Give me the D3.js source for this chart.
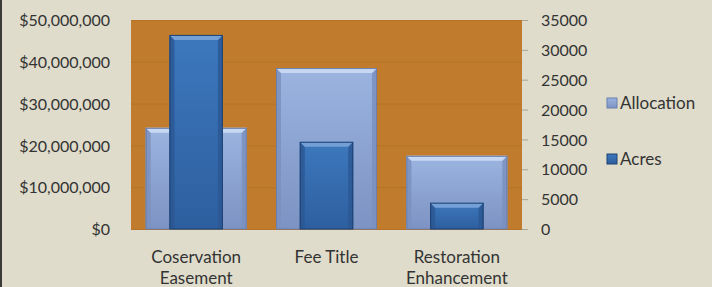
<!DOCTYPE html>
<html>
<head>
  <meta charset="utf-8">
  <title>Allocation and Acres</title>
  <script src="https://d3js.org/d3.v7.min.js"></script>
  <style>
    body { margin: 0; background: #dfdccb; }
    text { font-family: Lato, "Open Sans", sans-serif; fill: #333; }
  </style>
</head>
<body>
<script>
  // data
  var categories = [["Coservation", "Easement"], ["Fee Title", ""], ["Restoration", "Enhancement"]];
  var allocation = [24200000, 38500000, 17500000];
  var acres = [32500, 14600, 4400];
  var leftTicks = [0, 10000000, 20000000, 30000000, 40000000, 50000000];
  var rightTicks = [0, 5000, 10000, 15000, 20000, 25000, 30000, 35000];
  var seriesNames = ["Allocation", "Acres"];

  var width = 712, height = 287;
  var plot = { left: 131, right: 522, top: 20, bottom: 229 };

  var svg = d3.select("body").append("svg").attr("width", width).attr("height", height);
  svg.append("rect").attr("width", width).attr("height", height).attr("fill", "#dfdccb");
  svg.append("rect").attr("x", 0).attr("y", 0).attr("width", 2).attr("height", height).attr("fill", "#3a3a36");

  var defs = svg.append("defs");
  function grad(id, c1, c2) {
    var g = defs.append("linearGradient").attr("id", id).attr("x1", 0).attr("y1", 0).attr("x2", 0).attr("y2", 1);
    g.append("stop").attr("offset", "0%").attr("stop-color", c1);
    g.append("stop").attr("offset", "100%").attr("stop-color", c2);
  }
  grad("gLight", "#9bb4e0", "#7d93c3");
  grad("gDark", "#3d78bd", "#2d5f9f");

  var styles = {
    light: { fill: "url(#gLight)", top: "#c9d8f2", side: "#7a90c0", edge: "#6a7fae" },
    dark: { fill: "url(#gDark)", top: "#75a0d6", side: "#2b5894", edge: "#1f4272" }
  };

  var x = d3.scaleBand().domain(d3.range(categories.length)).range([plot.left, plot.right]).padding(0);
  var yL = d3.scaleLinear().domain([0, 50000000]).range([plot.bottom, plot.top]);
  var yR = d3.scaleLinear().domain([0, 35000]).range([plot.bottom, plot.top]);

  // plot area
  svg.append("rect")
    .attr("x", plot.left).attr("y", plot.top)
    .attr("width", plot.right - plot.left).attr("height", plot.bottom - plot.top)
    .attr("fill", "#c07c2c");

  svg.append("g").selectAll("line").data(leftTicks).join("line")
    .attr("x1", plot.left).attr("x2", plot.right)
    .attr("y1", function(d) { return yL(d) + 0.5; }).attr("y2", function(d) { return yL(d) + 0.5; })
    .attr("stroke", "#b3732a").attr("stroke-width", 1);

  // axes
  var axisL = d3.axisLeft(yL).tickValues(leftTicks).tickSize(0).tickPadding(0)
    .tickFormat(function(d) { return "$" + d3.format(",")(d); });
  var gL = svg.append("g").attr("transform", "translate(110,0)").call(axisL);
  gL.select(".domain").remove();
  gL.selectAll("text").attr("font-size", "16px").attr("dy", "0.35em").style("font-family", "Lato, sans-serif").attr("fill", "#333");

  var axisR = d3.axisRight(yR).tickValues(rightTicks).tickSize(6).tickPadding(13).tickFormat(d3.format("d"));
  var gR = svg.append("g").attr("transform", "translate(" + plot.right + ",0)").call(axisR);
  gR.select(".domain").remove();
  gR.selectAll("line").attr("stroke", "#a9a594");
  gR.selectAll("text").attr("font-size", "16px").attr("dy", "0.35em").style("font-family", "Lato, sans-serif").attr("fill", "#333");

  // beveled bar
  function bar(g, bx, by, bw, bh, s) {
    var b = Math.min(5, bh / 2);
    g.append("rect").attr("x", bx).attr("y", by).attr("width", bw).attr("height", bh).attr("fill", s.fill);
    g.append("path").attr("fill", s.side).attr("opacity", 0.85)
      .attr("d", "M" + bx + "," + by + "L" + (bx + b) + "," + (by + b) + "L" + (bx + b) + "," + (by + bh) + "L" + bx + "," + (by + bh) + "Z");
    g.append("path").attr("fill", s.side).attr("opacity", 0.85)
      .attr("d", "M" + (bx + bw) + "," + by + "L" + (bx + bw - b) + "," + (by + b) + "L" + (bx + bw - b) + "," + (by + bh) + "L" + (bx + bw) + "," + (by + bh) + "Z");
    g.append("path").attr("fill", s.top)
      .attr("d", "M" + bx + "," + by + "L" + (bx + bw) + "," + by + "L" + (bx + bw - b) + "," + (by + b) + "L" + (bx + b) + "," + (by + b) + "Z");
    g.append("rect").attr("x", bx + 0.5).attr("y", by + 0.5).attr("width", bw - 1).attr("height", bh - 0.5)
      .attr("fill", "none").attr("stroke", s.edge).attr("stroke-width", 1);
  }

  var bars = svg.append("g");
  allocation.forEach(function(v, i) {
    var w = x.bandwidth() * 0.775;
    var bx = x(i) + (x.bandwidth() - w) / 2;
    bar(bars, bx, yL(v), w, yL(0) - yL(v), styles.light);
  });
  acres.forEach(function(v, i) {
    var w = x.bandwidth() * 0.41;
    var bx = x(i) + (x.bandwidth() - w) / 2;
    bar(bars, bx, yR(v), w, yR(0) - yR(v), styles.dark);
  });

  // category labels
  var cat = svg.append("g").selectAll("text").data(categories).join("text")
    .attr("x", function(d, i) { return x(i) + x.bandwidth() / 2; })
    .attr("y", 263)
    .attr("text-anchor", "middle")
    .attr("font-size", "17px");
  cat.append("tspan").text(function(d) { return d[0]; });
  cat.append("tspan")
    .attr("x", function(d, i) { return x(i) + x.bandwidth() / 2; })
    .attr("dy", 21)
    .text(function(d) { return d[1]; });

  // legend
  var legend = svg.append("g").selectAll("g").data(seriesNames).join("g")
    .attr("transform", function(d, i) { return "translate(607," + (98 + i * 56) + ")"; });
  legend.append("rect").attr("width", 10).attr("height", 10)
    .attr("fill", function(d, i) { return i === 0 ? "url(#gLight)" : "url(#gDark)"; })
    .attr("stroke", function(d, i) { return i === 0 ? styles.light.edge : styles.dark.edge; });
  legend.append("text").attr("x", 13).attr("y", 5).attr("dy", "0.35em")
    .attr("font-size", "17px").text(function(d) { return d; });
</script>
</body>
</html>
